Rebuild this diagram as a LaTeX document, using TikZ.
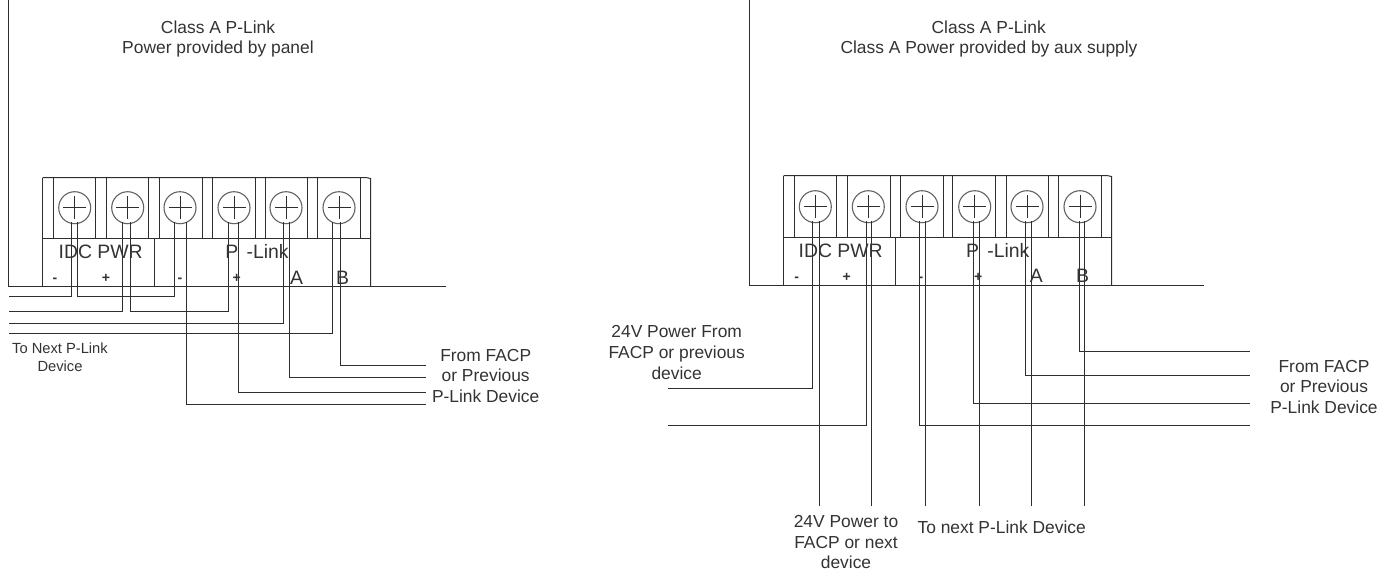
\documentclass[tikz,border=0pt]{standalone}
\usepackage{fontspec}
\setmainfont{Liberation Sans}
\definecolor{wire}{HTML}{2E2E2E}
\definecolor{ink}{HTML}{333333}
\newcommand{\screwat}[3]{%
  \node[screw] (#1) at (#2,#3) {};
  \draw[thin line] (#2-11.5,#3) -- (#2+11.5,#3) (#2,#3-11.5) -- (#2,#3+11.5);
}
\tikzset{
  thin line/.style={draw=wire,line width=1pt},
  screw/.style={circle,draw=wire!75,line width=1.1pt,minimum size=32pt,inner sep=0pt},
  wireline/.style={draw=wire,line width=1.05pt},
  txt/.style={text=ink,font=\fontsize{17.4}{20.7}\selectfont,align=center,inner sep=0pt},
  smalltxt/.style={text=ink,font=\fontsize{14.7}{17.7}\selectfont,align=center,inner sep=0pt},
  bigtxt/.style={text=ink,font=\fontsize{19.4}{22}\selectfont,inner sep=0pt},
  marktxt/.style={text=ink,font=\fontsize{14}{16}\selectfont\bfseries,inner sep=0pt},
}
\begin{document}
\begin{tikzpicture}[x=1pt,y=-1pt]
\useasboundingbox (0,0) rectangle (1392,574);
% ---------- left unit ----------
\draw[thin line] (8.5,0) -- (8.5,286.5) -- (445.5,286.5);
\draw[thin line] (42.5,177.5) -- (366,177.5) -- (370.5,178.5) -- (370.5,286.5);
\draw[thin line] (42.5,238.5) -- (370.5,238.5);
\draw[thin line] (42.5,177.5) -- (42.5,286.5);
\draw[thin line] (154.5,238.5) -- (154.5,286.5);
\foreach \x in {53.5,95.5,106.5,148.5,159.5,202.5,212.5,255.5,265.5,307.5,317.5,360.5}
  \draw[thin line] (\x,177.5) -- (\x,238.5);
\draw[wire,line width=1.8pt] (307.5,177.5) -- (317.5,177.5) (360.5,177.5) -- (366,177.5);
\screwat{la}{74.7}{207.7}
\screwat{lb}{127.7}{207.7}
\screwat{lc}{180}{207.7}
\screwat{ld}{234}{207.7}
\screwat{le}{286}{207.7}
\screwat{lf}{339}{207.7}
\foreach \n/\x/\y in {p1/71.5/222,p2/77.5/222,p3/122.5/222,p4/130.5/222,p5/174.5/222,p6/186.5/222,p7/228.5/222,p8/238.5/222,p9/283.5/222,p10/289.5/222,p11/332.5/222,p12/340.5/222}
  \coordinate (\n) at (\x,\y);
\foreach \n/\x/\y in {q1/9/296.5,q3/9/311.5,q9/9/323.5,q11/9/333.5,q12/426/365.5,q10/426/377.5,q8/426/392.5,q6/426/404.5}
  \coordinate (\n) at (\x,\y);
\foreach \a/\b in {p1/q1,p3/q3,p9/q9,p11/q11,p12/q12,p10/q10,p8/q8,p6/q6}
  \draw[wireline] (\a) |- (\b);
\draw[wireline] (p2) |- (150,296.5) -| (p5);
\draw[wireline] (p4) |- (180,311.5) -| (p7);
\node[txt] (t1) at (218,27.3) {Class A P-Link};
\node[txt] (t2) at (218,49) {Power provided by panel};
\node[bigtxt] (l1) at (100.7,251.7) {IDC PWR};
\node[bigtxt] (l2) at (257,251.7) {P\kern3pt{} -Link};
\node[marktxt] (m1) at (55,280) {-};
\node[marktxt] (m2) at (106,278) {+};
\node[marktxt] (m3) at (180,280) {-};
\node[marktxt] (m4) at (236.7,278) {+};
\node[bigtxt] (m5) at (296.7,278) {A};
\node[bigtxt] (m6) at (342.7,278) {B};
\node[smalltxt] (t3) at (60,357) {To Next P-Link\\Device};
\node[txt] (t4) at (485.7,376) {From FACP\\or Previous\\P-Link Device};
% ---------- right unit ----------
\draw[thin line] (749.5,0) -- (749.5,285.5) -- (1203.5,285.5);
\draw[thin line] (783.5,175.5) -- (1107,175.5) -- (1111.5,176.5) -- (1111.5,285.5);
\draw[thin line] (783.5,237.5) -- (1111.5,237.5);
\draw[thin line] (783.5,175.5) -- (783.5,285.5);
\draw[thin line] (895.5,237.5) -- (895.5,285.5);
\foreach \x in {794.5,836.5,847.5,890.5,900.5,943.5,952.5,995.5,1006.5,1048.5,1058.5,1101.5}
  \draw[thin line] (\x,175.5) -- (\x,237.5);
\draw[wire,line width=1.8pt] (1048.5,175.5) -- (1058.5,175.5) (1101.5,175.5) -- (1107,175.5);
\screwat{ra}{815.3}{206.7}
\screwat{rb}{868.3}{206.7}
\screwat{rc}{922}{206.7}
\screwat{rd}{974.7}{206.7}
\screwat{re}{1027}{206.7}
\screwat{rf}{1080}{206.7}
\foreach \n/\x in {a1/812.5,a3/866.5,a5/919.5,a7/973.5,a9/1025.5,a11/1079.5,a2/819.5,a4/871.5,a6/925.5,a8/979.5,a10/1031.5,a12/1084.5}
  \coordinate (\n) at (\x,221);
\foreach \n/\x/\y in {b1/667.5/388.5,b3/667.5/425.5,b5/1250/425.5,b7/1250/403.5,b9/1250/375.5,b11/1250/351.5,b2/819.5/506,b4/871.5/506,b6/925.5/506,b8/979.5/506,b10/1031.5/506,b12/1084.5/506}
  \coordinate (\n) at (\x,\y);
\foreach \a/\b in {a1/b1,a3/b3,a5/b5,a7/b7,a9/b9,a11/b11}
  \draw[wireline] (\a) |- (\b);
\foreach \a/\b in {a2/b2,a4/b4,a6/b6,a8/b8,a10/b10,a12/b12}
  \draw[wireline] (\a) -- (\b);
\node[txt] (u1) at (988.7,27.3) {Class A P-Link};
\node[txt] (u2) at (989,49) {Class A Power provided by aux supply};
\node[bigtxt] (r1) at (840.7,250.7) {IDC PWR};
\node[bigtxt] (r2) at (997.7,250.7) {P\kern3pt{} -Link};
\node[marktxt] (n1) at (796.7,279) {-};
\node[marktxt] (n2) at (846.7,277) {+};
\node[marktxt] (n3) at (921,279) {-};
\node[marktxt] (n4) at (978.3,277) {+};
\node[bigtxt] (n5) at (1036.3,276) {A};
\node[bigtxt] (n6) at (1082.7,276) {B};
\node[txt] (u3) at (676.7,352.5) {24V Power From\\FACP or previous\\device};
\node[txt] (u4) at (846,542) {24V Power to\\FACP or next\\device};
\node[txt] (u5) at (1001.7,527) {To next P-Link Device};
\node[txt] (u6) at (1324,387) {From FACP\\or Previous\\P-Link Device};
\end{tikzpicture}
\end{document}
